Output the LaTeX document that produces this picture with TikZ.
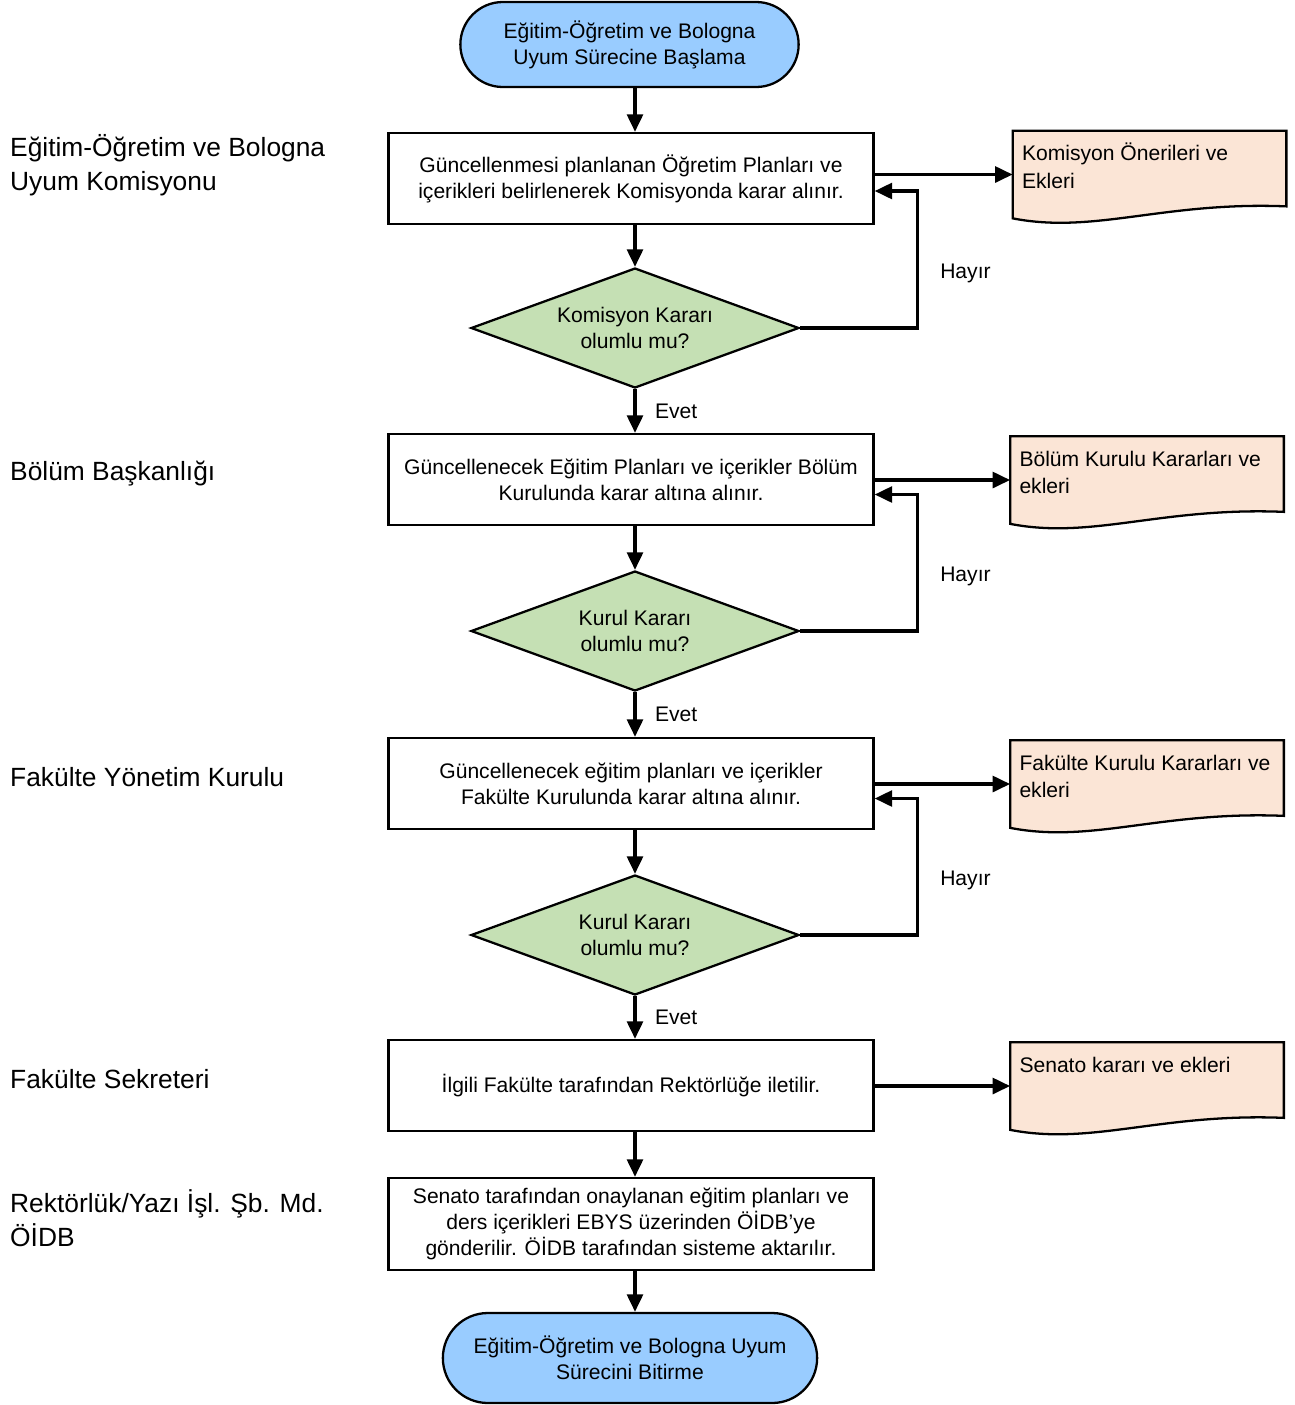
\documentclass[tikz,border=0pt]{standalone}
\usepackage{fontspec}
\setmainfont{Liberation Sans}
\usepackage{xcolor}
\usepackage{tikz}
\usetikzlibrary{arrows.meta, positioning, shapes.geometric, shapes.misc, calc, backgrounds}

\definecolor{termblue}{RGB}{153,204,255}
\definecolor{decgreen}{RGB}{197,224,180}
\definecolor{docpeach}{RGB}{251,229,214}

% text block of a document node, kept at the top
\newcommand{\doctext}[1]{\parbox[c][1.3cm][t]{5.1cm}{\raggedright\strut #1}}
% document outline with wavy bottom, drawn round a named node
\newcommand{\docshape}[1]{%
  \filldraw[docline] (#1.north west) -- (#1.north east) -- ([yshift=0.24cm]#1.south east)
    .. controls ([xshift=-2.46cm,yshift=0.34cm]#1.south east) and ([xshift=1.64cm,yshift=-0.32cm]#1.south west) .. (#1.south west) -- cycle;}

\begin{document}
\begin{tikzpicture}[
  term/.style={rounded rectangle, draw, line width=1.3pt, fill=termblue, minimum width=7.0cm, minimum height=1.7cm, align=center, font=\fontsize{12}{14.8}\selectfont},
  procbox/.style={draw, line width=1.3pt, fill=white, minimum width=9.7cm, minimum height=1.82cm, align=center, font=\fontsize{12}{14.8}\selectfont},
  decision/.style={diamond, aspect=2.73, draw, line width=1.3pt, fill=decgreen, minimum width=6.56cm, minimum height=2.4cm, inner sep=0pt, align=center, font=\fontsize{12}{14.8}\selectfont},
  docnode/.style={minimum width=5.46cm, minimum height=1.7cm, inner xsep=0.18cm, inner ysep=0.22cm, font=\fontsize{12}{15.4}\selectfont},
  docline/.style={draw, line width=1.3pt, fill=docpeach},
  lane/.style={anchor=west, align=left, font=\fontsize{15}{19.3}\selectfont},
  flow/.style={-{Triangle[length=10pt,width=9pt]}, line width=2pt},
  answer/.style={font=\fontsize{12}{14.8}\selectfont}
]
\useasboundingbox (0,0) rectangle (25.9,-28.1);

% --- Lanes ---
\node[lane] (lkom) at (0.08, -3.3) {Eğitim-Öğretim ve Bologna\\Uyum Komisyonu};
\node[lane] (lbol) at (0.08, -9.48) {Bölüm Başkanlığı};
\node[lane] (lfak) at (0.08, -15.54) {Fakülte Yönetim Kurulu};
\node[lane] (lsek) at (0.08, -21.58) {Fakülte Sekreteri};
\node[lane] (lrek) at (0.08, -24.36) {Rektörlük/Yazı İşl. Şb. Md.\\ÖİDB};

% --- Main column ---
\node[term] (start) at (12.59, -0.89) {Eğitim-Öğretim ve Bologna\\Uyum Sürecine Başlama};
\node[procbox] (box1) at (12.62, -3.57) {Güncellenmesi planlanan Öğretim Planları ve\\içerikleri belirlenerek Komisyonda karar alınır.};
\node[decision] (dec1) at (12.7, -6.56) {Komisyon Kararı\\olumlu mu?};
\node[procbox] (box2) at (12.62, -9.59) {Güncellenecek Eğitim Planları ve içerikler Bölüm\\Kurulunda karar altına alınır.};
\node[decision] (dec2) at (12.7, -12.62) {Kurul Kararı\\olumlu mu?};
\node[procbox] (box3) at (12.62, -15.67) {Güncellenecek eğitim planları ve içerikler\\Fakülte Kurulunda karar altına alınır.};
\node[decision] (dec3) at (12.7, -18.7) {Kurul Kararı\\olumlu mu?};
\node[procbox] (box4) at (12.62, -21.71) {İlgili Fakülte tarafından Rektörlüğe iletilir.};
\node[procbox, minimum height=1.84cm] (box5) at (12.62, -24.48) {Senato tarafından onaylanan eğitim planları ve\\ders içerikleri EBYS üzerinden ÖİDB’ye\\gönderilir. ÖİDB tarafından sisteme aktarılır.};
\node[term, minimum width=7.72cm, minimum height=1.8cm] (end) at (12.6, -27.16) {Eğitim-Öğretim ve Bologna Uyum\\Sürecini Bitirme};

% --- Documents ---
\node[docnode] (doc1) at (22.99, -3.49) {\doctext{Komisyon Önerileri ve\\Ekleri}};
\node[docnode] (doc2) at (22.94, -9.6) {\doctext{Bölüm Kurulu Kararları ve\\ekleri}};
\node[docnode] (doc3) at (22.94, -15.68) {\doctext{Fakülte Kurulu Kararları ve\\ekleri}};
\node[docnode] (doc4) at (22.94, -21.72) {\doctext{Senato kararı ve ekleri}};
\begin{scope}[on background layer]
  \docshape{doc1}
  \docshape{doc2}
  \docshape{doc3}
  \docshape{doc4}
\end{scope}

% --- Main flow ---
\draw[flow] (start.south -| dec1) -- (box1.north -| dec1);
\draw[flow] (box1.south -| dec1) -- (dec1.north);
\draw[flow] (dec1.south) -- (box2.north -| dec1) node[midway, right=0.25cm, answer] {Evet};
\draw[flow] (box2.south -| dec2) -- (dec2.north);
\draw[flow] (dec2.south) -- (box3.north -| dec2) node[midway, right=0.25cm, answer] {Evet};
\draw[flow] (box3.south -| dec3) -- (dec3.north);
\draw[flow] (dec3.south) -- (box4.north -| dec3) node[midway, right=0.25cm, answer] {Evet};
\draw[flow] (box4.south -| dec3) -- (box5.north -| dec3);
\draw[flow] (box5.south -| dec3) -- (end.north -| dec3);

% --- To documents ---
\draw[flow] (box1.east |- doc1.west) -- (doc1.west);
\draw[flow] (box2.east |- doc2.west) -- (doc2.west);
\draw[flow] (box3.east |- doc3.west) -- (doc3.west);
\draw[flow] (box4.east |- doc4.west) -- (doc4.west);

% --- Back loops ---
\draw[flow] (dec1.east) -| ([xshift=0.86cm,yshift=-0.25cm]box1.east) node[pos=0.7, right=0.3cm, answer] {Hayır} -- ([yshift=-0.25cm]box1.east);
\draw[flow] (dec2.east) -| ([xshift=0.86cm,yshift=-0.3cm]box2.east) node[pos=0.7, right=0.3cm, answer] {Hayır} -- ([yshift=-0.3cm]box2.east);
\draw[flow] (dec3.east) -| ([xshift=0.86cm,yshift=-0.3cm]box3.east) node[pos=0.7, right=0.3cm, answer] {Hayır} -- ([yshift=-0.3cm]box3.east);

\end{tikzpicture}
\end{document}
